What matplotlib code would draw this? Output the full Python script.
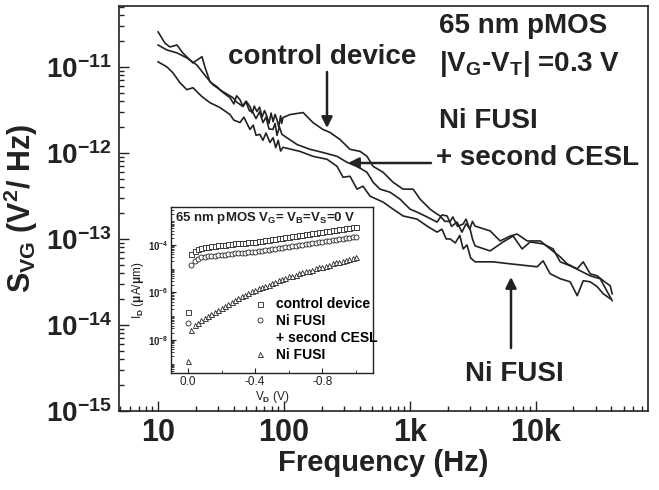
import numpy as np
import matplotlib
matplotlib.use('Agg')
import matplotlib.pyplot as plt
from matplotlib.ticker import FixedLocator, LogLocator, NullFormatter, FixedFormatter
from matplotlib.lines import Line2D

plt.rcParams['font.family'] = ['Liberation Sans', 'DejaVu Sans']
plt.rcParams['mathtext.fontset'] = 'custom'
plt.rcParams['mathtext.rm'] = 'Liberation Sans:bold'
plt.rcParams['mathtext.it'] = 'Liberation Sans:bold'
plt.rcParams['mathtext.bf'] = 'Liberation Sans:bold'
plt.rcParams['mathtext.default'] = 'rm'

# ---- main plot data: S_VG (in 1e-12 V^2/Hz) vs frequency (Hz)
f_ctrl = [10, 11.3, 12.4, 14.1, 15.7, 18.9, 22.3, 23.5, 25.8, 29.3, 32.1, 37.2, 40, 42, 44.7,
          47, 50, 53.7, 56, 58, 61.0, 64, 67, 70, 73.3, 76, 79, 82, 85, 87.9, 91, 94, 96, 98.2,
          112, 142, 170, 204, 232, 279, 335, 403, 457, 511, 614, 736, 885, 1063, 1208, 1451,
          1600, 1742, 1900, 2093, 2200, 2400, 2655, 2800, 3000, 3150, 3305, 4355, 5230, 6280,
          7140, 8580, 10900, 13060, 15700, 17840, 21430, 23920, 27170, 30900, 34500, 39200, 40650]
s_ctrl = [25.4, 18.9, 17.0, 17.9, 14.5, 11.1, 13.1, 10.0, 6.71, 5.87, 5.14, 4.38, 3.7, 4.6, 4.15,
          3.5, 4.0, 3.45, 2.9, 3.5, 3.02, 3.4, 2.6, 3.1, 2.64, 2.2, 2.9, 2.3, 2.8, 2.44, 2.0, 2.7,
          2.2, 2.57, 2.79, 2.94, 2.25, 1.87, 1.73, 1.43, 1.10, 1.04, 0.912, 0.698, 0.595, 0.456,
          0.379, 0.379, 0.290, 0.222, 0.20, 0.185, 0.16, 0.160, 0.18, 0.14, 0.149, 0.17, 0.13,
          0.16, 0.141, 0.124, 0.0948, 0.108, 0.114, 0.0948, 0.0948, 0.0766, 0.0619, 0.0514,
          0.0450, 0.0542, 0.0394, 0.0373, 0.0327, 0.0286, 0.0231]

f_cesl = [10, 11.7, 14.1, 16.9, 20.3, 24.4, 27.2, 32.7, 39.3, 42, 47.2, 50, 53, 56.7, 60, 64,
          68.1, 72, 76, 81.7, 85, 88, 92, 96.4, 127, 161, 204, 264, 317, 381, 457, 511, 580, 697,
          837, 1005, 1143, 1374, 1649, 1800, 1981, 2150, 2377, 2600, 2800, 3018, 3150, 3305,
          4355, 5520, 6630, 7820, 9060, 11480, 13800, 15700, 18840, 22640, 27170, 32650, 37150,
          40650]
s_cesl = [17.9, 15.7, 14.5, 12.7, 10.5, 7.47, 6.19, 5.14, 4.38, 3.9, 3.45, 3.9, 3.1, 2.94, 2.5,
          3.0, 2.25, 2.6, 1.9, 1.87, 2.2, 1.6, 2.0, 1.64, 1.25, 1.10, 1.01, 0.912, 0.777, 0.698,
          0.595, 0.456, 0.379, 0.349, 0.290, 0.222, 0.205, 0.180, 0.157, 0.19, 0.185, 0.14, 0.157,
          0.12, 0.15, 0.130, 0.10, 0.0830, 0.0726, 0.0923, 0.108, 0.0766, 0.0923, 0.0875, 0.0766,
          0.0542, 0.0488, 0.0427, 0.0373, 0.0345, 0.0244, 0.0192]

f_fusi = [10, 11.7, 13.1, 14.9, 16.9, 18.9, 22.3, 25.8, 31.0, 37.2, 40, 44.7, 48, 53.7, 57, 60,
          64.4, 68, 72, 77.4, 82, 86, 90, 94, 98.2, 134, 170, 220, 264, 295, 335, 381, 425, 483,
          614, 736, 885, 1143, 1374, 1649, 1800, 1950, 2093, 2300, 2500, 2655, 2850, 3050, 3305,
          4600, 6280, 10300, 11480, 13060, 15700, 18840, 21430, 23920, 27170, 30900, 34500, 39200]
s_fusi = [11.4, 10.0, 8.53, 6.53, 5.42, 5.71, 4.50, 3.83, 3.36, 2.79, 2.4, 2.25, 2.6, 1.87, 2.1,
          1.6, 1.64, 1.4, 1.7, 1.32, 1.5, 1.15, 1.4, 1.05, 1.16, 1.04, 0.912, 0.842, 0.698, 0.521,
          0.535, 0.379, 0.410, 0.314, 0.268, 0.222, 0.185, 0.170, 0.141, 0.120, 0.13, 0.10, 0.100,
          0.09, 0.11, 0.0766, 0.085, 0.06, 0.0542, 0.0542, 0.0514, 0.0475, 0.0557, 0.0394,
          0.0345, 0.0318, 0.0219, 0.0327, 0.0318, 0.0279, 0.0231, 0.0202]

# ---- inset data: log10(I_D) vs V_D
vd = [0.0, -0.02, -0.04, -0.06, -0.08, -0.10, -0.12, -0.14, -0.16, -0.18, -0.20, -0.22, -0.24,
      -0.26, -0.28, -0.30, -0.32, -0.34, -0.36, -0.38, -0.40, -0.42, -0.44, -0.46, -0.48, -0.50,
      -0.52, -0.54, -0.56, -0.58, -0.60, -0.62, -0.64, -0.66, -0.68, -0.70, -0.72, -0.74, -0.76,
      -0.78, -0.80, -0.82, -0.84, -0.86, -0.88, -0.90, -0.92, -0.94, -0.96, -0.98, -1.00]
logid_ctrl = [-6.81, -4.40, -4.25, -4.18, -4.13, -4.10, -4.07, -4.05, -4.03, -4.02, -4.00, -3.99,
              -3.97, -3.96, -3.94, -3.93, -3.91, -3.90, -3.88, -3.87, -3.86, -3.84, -3.82, -3.80,
              -3.78, -3.76, -3.74, -3.72, -3.70, -3.67, -3.65, -3.63, -3.61, -3.59, -3.57, -3.55,
              -3.53, -3.51, -3.48, -3.46, -3.44, -3.42, -3.40, -3.38, -3.36, -3.34, -3.31, -3.29,
              -3.27, -3.25, -3.23]
logid_cesl = [-7.30, -4.84, -4.66, -4.58, -4.53, -4.50, -4.48, -4.46, -4.45, -4.43, -4.42, -4.41,
              -4.39, -4.38, -4.36, -4.35, -4.34, -4.32, -4.31, -4.29, -4.28, -4.26, -4.24, -4.22,
              -4.20, -4.18, -4.16, -4.14, -4.11, -4.09, -4.07, -4.05, -4.03, -4.01, -3.99, -3.97,
              -3.95, -3.93, -3.90, -3.88, -3.86, -3.84, -3.82, -3.80, -3.78, -3.76, -3.74, -3.72,
              -3.69, -3.67, -3.65]
logid_fusi = [-8.91, -7.60, -7.38, -7.28, -7.18, -7.09, -7.00, -6.92, -6.84, -6.75, -6.67, -6.58,
              -6.50, -6.41, -6.33, -6.24, -6.17, -6.10, -6.03, -5.96, -5.89, -5.83, -5.78, -5.72,
              -5.67, -5.61, -5.55, -5.50, -5.44, -5.39, -5.33, -5.29, -5.25, -5.20, -5.16, -5.12,
              -5.08, -5.04, -4.99, -4.95, -4.91, -4.87, -4.83, -4.78, -4.74, -4.70, -4.67, -4.63,
              -4.60, -4.56, -4.53]

xticks = [10, 100, 1000, 10000]
xticklabels = ['10', '100', '1k', '10k']
yticks = [1e-15, 1e-14, 1e-13, 1e-12, 1e-11]

ink = '#222222'
fig = plt.figure(figsize=(6.59, 4.9), dpi=100)
ax = fig.add_axes([0.180, 0.161, 0.803, 0.827])

for f, s in [(f_ctrl, s_ctrl), (f_cesl, s_cesl), (f_fusi, s_fusi)]:
    ax.plot(f, np.array(s) * 1e-12, color=ink, lw=1.2)

ax.set_xscale('log')
ax.set_yscale('log')
ax.set_xlim(4.85, 78000)
ax.set_ylim(1e-15, 5.1e-11)
ax.xaxis.set_major_locator(FixedLocator(xticks))
ax.xaxis.set_major_formatter(FixedFormatter(xticklabels))
ax.xaxis.set_minor_locator(LogLocator(base=10, subs=np.arange(2, 10)))
ax.xaxis.set_minor_formatter(NullFormatter())
ax.yaxis.set_major_locator(FixedLocator(yticks))
ax.set_yticklabels([r'$10^{-15}$', r'$10^{-14}$', r'$10^{-13}$', r'$10^{-12}$', r'$10^{-11}$'])
ax.yaxis.set_minor_locator(LogLocator(base=10, subs=np.arange(2, 10)))
ax.yaxis.set_minor_formatter(NullFormatter())
ax.tick_params(which='both', direction='in', top=False, right=False, colors=ink, width=1.0)
ax.tick_params(axis='y', labelsize=20)
ax.tick_params(axis='x', labelsize=22)
ax.tick_params(which='major', length=7, pad=5)
ax.tick_params(which='minor', length=3.5)
for lab in ax.get_xticklabels():
    lab.set_fontweight('bold')
for sp in ax.spines.values():
    sp.set_linewidth(1.2)
    sp.set_color(ink)

ax.set_xlabel('Frequency (Hz)', fontsize=21, fontweight='bold', color=ink, labelpad=1)
ax.set_ylabel(r'S$_{VG}$ (V$^2$/ Hz)', fontsize=22, fontweight='bold', color=ink, labelpad=4)

# annotations
tk = dict(fontsize=20, fontweight='bold', color=ink)
fig.text(439 / 659, 1 - 26 / 490, '65 nm pMOS', va='center', **tk)
fig.text(439 / 659, 1 - 64 / 490, r'|V$_G$-V$_T$| =0.3 V', va='center', **tk)
fig.text(439 / 659, 1 - 121 / 490, 'Ni FUSI', va='center', **tk)
fig.text(436 / 659, 1 - 158 / 490, '+ second CESL', va='center', **tk)
fig.text(228 / 659, 1 - 57 / 490, 'control device', va='center', **tk)
fig.text(514 / 659, 1 - 374 / 490, 'Ni FUSI', va='center', ha='center', **tk)

arr = dict(arrowstyle='-|>', color=ink, lw=1.8, mutation_scale=16, shrinkA=0, shrinkB=0)
ax.annotate('', xy=(327 / 659, 1 - 128 / 490), xytext=(327 / 659, 1 - 72 / 490),
            xycoords='figure fraction', textcoords='figure fraction', arrowprops=arr)
ax.annotate('', xy=(348 / 659, 1 - 163 / 490), xytext=(431 / 659, 1 - 163 / 490),
            xycoords='figure fraction', textcoords='figure fraction', arrowprops=arr)
ax.annotate('', xy=(511 / 659, 1 - 277 / 490), xytext=(511 / 659, 1 - 348 / 490),
            xycoords='figure fraction', textcoords='figure fraction', arrowprops=arr)

# ---- inset
axi = fig.add_axes([0.2595, 0.2388, 0.3065, 0.3388])
ms = dict(ls='none', mfc='white', mec=ink, mew=0.6, ms=3.6)
h1, = axi.plot(vd, 10 ** np.array(logid_ctrl), marker='s', **ms)
h2, = axi.plot(vd, 10 ** np.array(logid_cesl), marker='o', **ms)
h3, = axi.plot(vd, 10 ** np.array(logid_fusi), marker='^', **ms)
axi.set_yscale('log')
axi.set_xlim(0.1, -1.1)
axi.set_ylim(10 ** -9.4, 10 ** -2.4)
axi.xaxis.set_major_locator(FixedLocator([0.0, -0.4, -0.8]))
axi.xaxis.set_minor_locator(FixedLocator([-0.2, -0.6, -1.0]))
axi.set_xticklabels(['0.0', '-0.4', '-0.8'])
axi.yaxis.set_major_locator(FixedLocator([1e-8, 1e-6, 1e-4]))
axi.set_yticklabels([r'$10^{-8}$', r'$10^{-6}$', r'$10^{-4}$'])
axi.yaxis.set_minor_locator(LogLocator(base=10, subs=np.arange(1, 10), numticks=30))
axi.yaxis.set_minor_formatter(NullFormatter())
axi.tick_params(which='both', direction='in', top=False, right=False, colors=ink, labelsize=8.5)
axi.tick_params(axis='y', labelsize=7)
axi.tick_params(which='major', length=3.5, pad=2)
axi.tick_params(which='minor', length=2)
for sp in axi.spines.values():
    sp.set_linewidth(1.0)
    sp.set_color(ink)
axi.set_xlabel(r'V$_D$ (V)', fontsize=8.5, color=ink, labelpad=1)
axi.set_ylabel(r'I$_D$ ($\mu$A/$\mu$m)', fontsize=8.5, color=ink, labelpad=1)
axi.text(0.02, 0.935, r'65 nm pMOS V$_G$= V$_B$=V$_S$=0 V', transform=axi.transAxes,
         fontsize=9.5, fontweight='bold', color=ink, va='center')
blank = Line2D([], [], ls='none')
axi.legend([h1, h2, blank, h3], ['control device', 'Ni FUSI', '+ second CESL', 'Ni FUSI'],
           loc='upper left', bbox_to_anchor=(0.37, 0.505), frameon=False,
           handlelength=0.8, handletextpad=0.8, labelspacing=0.2, borderpad=0.1,
           prop={'weight': 'bold', 'size': 10})

fig.savefig('out.png', dpi=100)
